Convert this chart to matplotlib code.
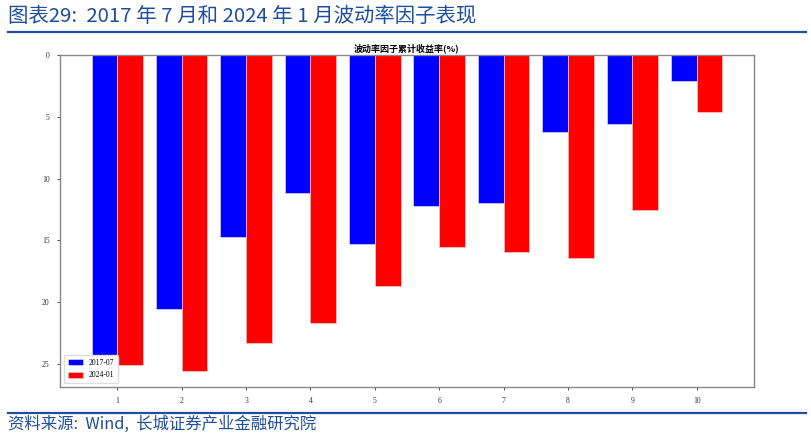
import numpy as np
import matplotlib
matplotlib.use("Agg")
import matplotlib.pyplot as plt
from matplotlib.lines import Line2D

# 波动率因子 分组累计收益率 (%)
groups = [1, 2, 3, 4, 5, 6, 7, 8, 9, 10]
ret_2017 = [24.45, 20.55, 14.7, 11.2, 15.3, 12.25, 12.0, 6.2, 5.55, 2.1]
ret_2024 = [25.1, 25.6, 23.35, 21.7, 18.7, 15.55, 15.95, 16.45, 12.55, 4.65]
labels = ["2017-07", "2024-01"]

header = "图表29:  2017 年 7 月和 2024 年 1 月波动率因子表现"
footer = "资料来源:  Wind,  长城证券产业金融研究院"
title = "波动率因子累计收益率(%)"

cjk = ["Noto Sans CJK SC", "DejaVu Sans"]
serif = "Liberation Serif"
navy = "#1f4e9c"

fig = plt.figure(figsize=(8.12, 4.38), dpi=100)
ax = fig.add_axes([0.0739, 0.1164, 0.8547, 0.758])

x = np.array(groups)
w = 0.4
ax.bar(x - w/2, ret_2017, width=w, color="#0000ff", edgecolor="#d8d8ff", linewidth=0.5, label=labels[0])
ax.bar(x + w/2, ret_2024, width=w, color="#ff0000", edgecolor="#ffc8c8", linewidth=0.5, label=labels[1])

ax.invert_yaxis()
ax.set_xticks(groups)
ax.set_xticklabels([str(g) for g in groups], fontfamily=serif, fontsize=5.5)
ax.set_yticks([0, 5, 10, 15, 20, 25])
ax.set_yticklabels(["0", "5", "10", "15", "20", "25"], fontfamily=serif, fontsize=5.5)
ax.tick_params(length=2.5, width=0.6, colors="#333333", pad=5)
for s in ax.spines.values():
    s.set_color("#888888")
    s.set_linewidth(1.0)

ax.set_title(title, fontfamily=cjk, fontsize=6.5, fontweight="bold", pad=3)

leg = ax.legend(loc="lower left", prop={"family": serif, "size": 5.5},
                handlelength=2.0, handleheight=0.8, borderpad=0.5, labelspacing=0.6,
                framealpha=1, edgecolor="#dddddd")

# header / footer
fig.text(0.010, 0.963, header, fontfamily=cjk, fontsize=14.7, fontstyle="italic",
         color=navy, va="center", ha="left")
fig.add_artist(Line2D([0.010, 0.992], [0.927, 0.927], color=navy, linewidth=1.6))
fig.add_artist(Line2D([0.010, 0.992], [0.057, 0.057], color=navy, linewidth=1.6))
fig.text(0.010, 0.031, footer, fontfamily=cjk, fontsize=11.8, fontstyle="italic",
         color=navy, va="center", ha="left")

fig.savefig("out.png", dpi=100)
